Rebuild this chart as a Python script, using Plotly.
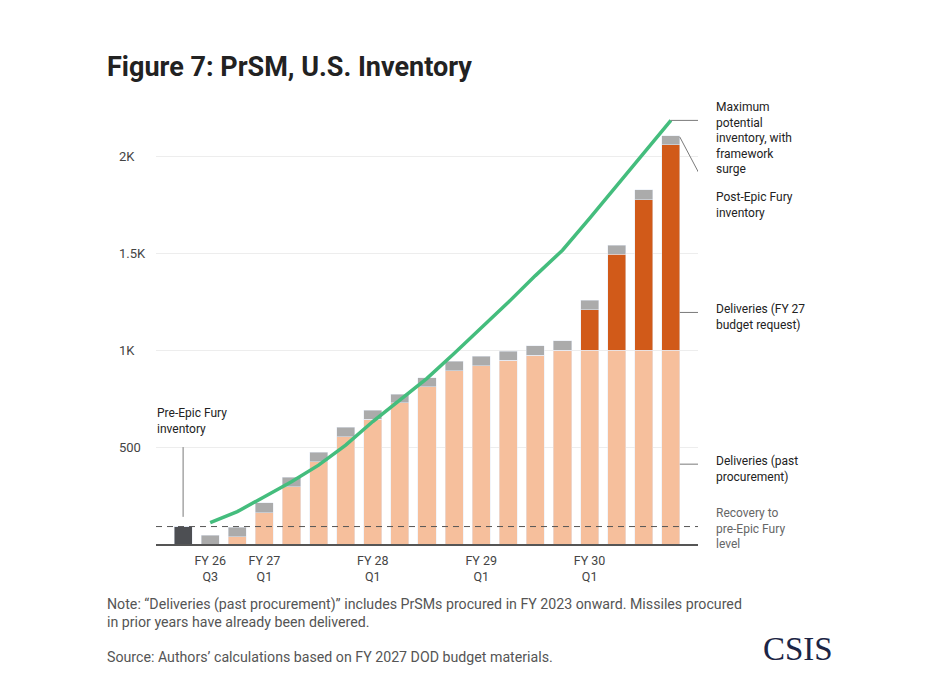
import plotly.graph_objects as go

# quarters shown on the x axis (one bar each)
quarters = ["FY 26 Q2", "FY 26 Q3", "FY 26 Q4",
            "FY 27 Q1", "FY 27 Q2", "FY 27 Q3", "FY 27 Q4",
            "FY 28 Q1", "FY 28 Q2", "FY 28 Q3", "FY 28 Q4",
            "FY 29 Q1", "FY 29 Q2", "FY 29 Q3", "FY 29 Q4",
            "FY 30 Q1", "FY 30 Q2", "FY 30 Q3", "FY 30 Q4"]
tick_quarters = ["FY 26 Q3", "FY 27 Q1", "FY 28 Q1", "FY 29 Q1", "FY 30 Q1"]
tick_text = ["FY 26<br>Q3", "FY 27<br>Q1", "FY 28<br>Q1", "FY 29<br>Q1", "FY 30<br>Q1"]

pre_epic = [90] + [0] * 18
past_procurement = [0, 0, 38, 161, 295, 424, 553, 643, 728, 811,
                    893, 919, 948, 973, 1000, 1000, 1000, 1000, 1000]
fy27_request = [0] * 15 + [210, 495, 777, 1061]
post_epic = [0, 45, 48, 52, 49, 50, 50, 48, 46, 46,
             49, 50, 48, 51, 50, 48, 47, 51, 47]
max_potential = [None, 110, 167, 244, 321, 407, 510, 632, 745, 855,
                 983, 1113, 1247, 1385, 1516, 1681, 1850, 2017, 2186]
recovery_level = 90

y_ticks = [500, 1000, 1500, 2000]
y_tick_text = ["500", "1K", "1.5K", "2K"]

# plot area in page pixels; the page body adds an 8px margin
OFF = 8
W, H = 932, 674
L, R, T, B = 156, 698, 108, 544


def px(xp):
    return (xp - L) / (R - L)


def py(yp):
    return (B - yp) / (B - T)


FONT = "Roboto"
bar_kw = dict(x=quarters, hoverinfo="skip")

fig = go.Figure()
fig.add_trace(go.Bar(y=pre_epic, marker_color="#4d4f53", **bar_kw))
fig.add_trace(go.Bar(y=past_procurement, marker_color="#f6bf9c", **bar_kw))
fig.add_trace(go.Bar(y=fy27_request, marker_color="#d15a19", **bar_kw))
fig.add_trace(go.Bar(y=post_epic, marker_color="#ababab", **bar_kw))
fig.add_trace(go.Scatter(x=quarters, y=max_potential, mode="lines",
                         line=dict(color="#44bd7d", width=3.5), hoverinfo="skip"))

line_kw = dict(type="line", xref="x", yref="y", line=dict(color="#7a7a7a", width=1))
last = len(quarters) - 1
shapes = [
    dict(type="line", xref="paper", yref="y", x0=0, x1=1, y0=recovery_level, y1=recovery_level,
         line=dict(color="#555555", width=1, dash="6px,5px"), layer="above"),
    dict(x0=last, x1=last + 1.35, y0=max_potential[-1], y1=max_potential[-1], **line_kw),
    dict(x0=last + 0.33, x1=last + 1.35, y0=2100, y1=1830, **line_kw),
    dict(x0=last + 0.33, x1=last + 1.35, y0=1195, y1=1195, **line_kw),
    dict(x0=last + 0.33, x1=last + 1.35, y0=412, y1=412, **line_kw),
    dict(x0=0, x1=0, y0=140, y1=500, **line_kw),
]

ann = []
for v, t in zip(y_ticks, y_tick_text):
    ann.append(dict(x=px(117), xref="paper", y=v, yref="y", text=t, showarrow=False,
                    xanchor="left", yanchor="middle", font=dict(size=13, color="#444444")))

labels = [
    ("Maximum<br>potential<br>inventory, with<br>framework<br>surge", 2093, "#222222"),
    ("Post-Epic Fury<br>inventory", 1750, "#222222"),
    ("Deliveries (FY 27<br>budget request)", 1170, "#222222"),
    ("Deliveries (past<br>procurement)", 387, "#222222"),
    ("Recovery to<br>pre-Epic Fury<br>level", 82, "#666666"),
]
for t, v, c in labels:
    ann.append(dict(x=px(714), xref="paper", y=v, yref="y", text=t, showarrow=False,
                    xanchor="left", yanchor="middle", align="left",
                    font=dict(size=12, color=c)))
ann.append(dict(x=px(155), xref="paper", y=634, yref="y", text="Pre-Epic Fury<br>inventory",
                showarrow=False, xanchor="left", yanchor="middle", align="left",
                font=dict(size=12, color="#222222")))

ann.append(dict(x=px(105), xref="paper", y=py(67), yref="paper",
                text="<b>Figure 7: PrSM, U.S. Inventory</b>", showarrow=False,
                xanchor="left", yanchor="middle", font=dict(size=27, color="#222222")))
ann.append(dict(x=px(105), xref="paper", y=py(613), yref="paper",
                text="Note: \u201cDeliveries (past procurement)\u201d includes PrSMs procured in FY 2023 onward. Missiles procured<br>in prior years have already been delivered.",
                showarrow=False, xanchor="left", yanchor="middle", align="left",
                font=dict(size=14.2, color="#555555")))
ann.append(dict(x=px(105), xref="paper", y=py(657), yref="paper",
                text="Source: Authors\u2019 calculations based on FY 2027 DOD budget materials.",
                showarrow=False, xanchor="left", yanchor="middle", align="left",
                font=dict(size=14.2, color="#555555")))
ann.append(dict(x=px(761), xref="paper", y=py(649), yref="paper", text="CSIS",
                showarrow=False, xanchor="left", yanchor="middle",
                font=dict(size=33, color="#1c2545", family="Liberation Serif")))

fig.update_layout(
    width=W, height=H,
    margin=dict(l=L - OFF, r=W - (R - OFF), t=T - OFF, b=H - (B - OFF)),
    paper_bgcolor="white", plot_bgcolor="white",
    barmode="stack", bargap=0.335, showlegend=False,
    font=dict(family=FONT, size=12, color="#222222"),
    shapes=shapes, annotations=ann,
    xaxis=dict(type="category", categoryorder="array", categoryarray=quarters,
               range=[-1, len(quarters)], tickmode="array", tickvals=tick_quarters,
               ticktext=tick_text, showgrid=False, ticks="", showline=True,
               linecolor="#555555", linewidth=1.5, ticklabelstandoff=4,
               tickfont=dict(size=12.5, color="#444444")),
    yaxis=dict(range=[0, 2250], tickvals=y_ticks, showticklabels=False,
               showgrid=True, gridcolor="#ededed", gridwidth=1,
               zeroline=False, showline=False, ticks=""),
)

fig.write_html("out.html")
